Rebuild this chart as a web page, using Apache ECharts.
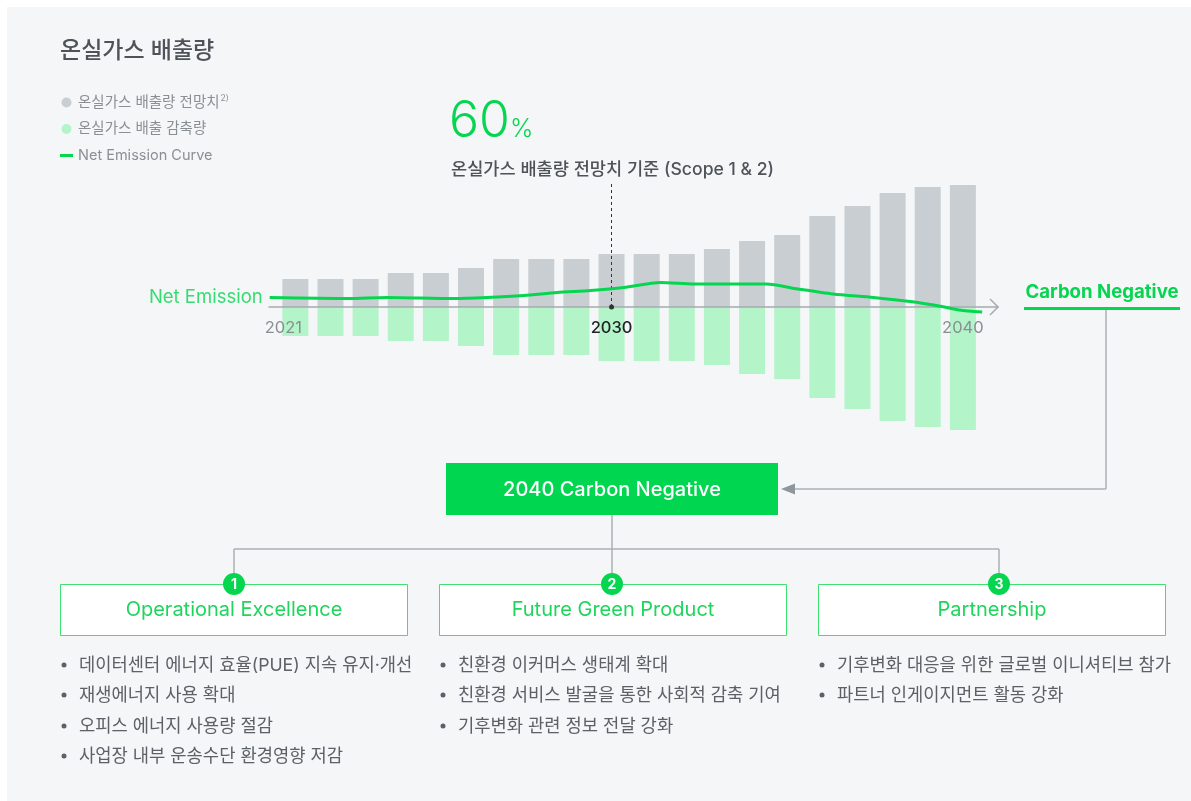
<!DOCTYPE html>
<html>
<head>
<meta charset="utf-8">
<script src="https://cdn.jsdelivr.net/npm/echarts@6/dist/echarts.min.js"></script>
<style>
  html, body { margin: 0; padding: 0; background: #ffffff; }
  #chart { width: 1191px; height: 801px; }
</style>
</head>
<body>
<div id="chart"></div>
<script>
// ---- data ----
const years = [2021, 2022, 2023, 2024, 2025, 2026, 2027, 2028, 2029, 2030,
               2031, 2032, 2033, 2034, 2035, 2036, 2037, 2038, 2039, 2040];
// projected (business-as-usual) emissions
const projected = [28, 28, 28, 34, 34, 39, 48, 48, 48, 53,
                   53, 53, 58, 66, 72, 91, 101, 114, 120, 122];
// emission reductions (drawn below the axis)
const reduction = [-29, -29, -29, -34, -34, -39, -48, -48, -48, -54,
                   -54, -54, -58, -67, -72, -91, -102, -114, -120, -123];
// net emission curve: [year position, value]
const netCurve = [
  [2020.27, 9.5], [2022.5, 8.5], [2023.6, 9.5], [2025.5, 8.5], [2026.45, 9.5],
  [2027.5, 11.5], [2028.45, 14.5], [2029.4, 16.5], [2030.35, 19.5], [2031.4, 24.5],
  [2032.35, 23], [2034.4, 23], [2035.3, 18], [2036.3, 13], [2037.45, 9.5],
  [2038.5, 5.5], [2039.4, 0.5], [2039.9, -3], [2040.55, -5]
];
const axisYears = [2021, 2030, 2040];
const baseYear = 2030;
const baseMarkerTop = 124;

const seriesNames = ['온실가스 배출량 전망치', '온실가스 배출 감축량', 'Net Emission Curve'];
const curveLabel = 'Net Emission';
const titleText = '온실가스 배출량';
const targetPct = '60';
const targetNote = '온실가스 배출량 전망치 기준 (Scope 1 & 2)';
const goalText = '2040 Carbon Negative';
const sideText = 'Carbon Negative';
const pillars = ['Operational Excellence', 'Future Green Product', 'Partnership'];
const actions = [
  ['데이터센터 에너지 효율(PUE) 지속 유지·개선', '재생에너지 사용 확대', '오피스 에너지 사용량 절감', '사업장 내부 운송수단 환경영향 저감'],
  ['친환경 이커머스 생태계 확대', '친환경 서비스 발굴을 통한 사회적 감축 기여', '기후변화 관련 정보 전달 강화'],
  ['기후변화 대응을 위한 글로벌 이니셔티브 참가', '파트너 인게이지먼트 활동 강화']
];

// ---- styles ----
const FONT = "Inter, 'Noto Sans CJK KR', sans-serif";
const GREEN = '#06d64f';
const GREEN_TEXT = '#1fd65d';
const GRAY_BAR = '#c8ced2';
const GREEN_BAR = '#b3f4c9';
const CONNECT = '#aab1b6';
const TEXT_DARK = '#4d5358';
const TEXT_BODY = '#5b6166';

function txt(x, y, text, size, fill, opts) {
  opts = opts || {};
  return {
    type: 'text', x: x, y: y, z: opts.z || 5,
    style: {
      text: text, fill: fill,
      font: (opts.weight || 400) + ' ' + size + 'px ' + FONT,
      align: opts.align || 'left', textAlign: opts.align || 'left',
      verticalAlign: 'middle', textVerticalAlign: 'middle',
      rich: opts.rich
    }
  };
}
function seg(x1, y1, x2, y2, color, w) {
  return { type: 'line', z: 3, shape: { x1: x1, y1: y1, x2: x2, y2: y2 },
           style: { stroke: color, lineWidth: w || 1.5 } };
}

const graphics = [];
// panel background
graphics.push({ type: 'rect', z: -10, silent: true,
  shape: { x: 7, y: 7, width: 1184, height: 794 }, style: { fill: '#f5f6f8' } });

// 60% headline
graphics.push(txt(449, 122, '{a|' + targetPct + '}{b|%}', 50, GREEN, {
  rich: {
    a: { fontSize: 50, fontWeight: 300, fontFamily: FONT, fill: GREEN, color: GREEN },
    b: { fontSize: 25, fontWeight: 300, fontFamily: FONT, fill: GREEN, color: GREEN, padding: [14, 0, 0, 0] }
  }
}));
graphics.push(txt(451, 170, targetNote, 17.6, TEXT_DARK, { weight: 500 }));

// axis arrow head
graphics.push({ type: 'polyline', z: 4,
  shape: { points: [[990, 299], [998, 307], [990, 315]] },
  style: { stroke: '#a5abb0', lineWidth: 1.5, fill: null } });

// "Carbon Negative" tag with underline and connector to the goal box
graphics.push(txt(1102, 292, sideText, 18.6, GREEN, { weight: 700, align: 'center' }));
graphics.push({ type: 'rect', z: 4, shape: { x: 1024, y: 307, width: 156, height: 3 }, style: { fill: GREEN } });
graphics.push(seg(1106, 310, 1106, 489, CONNECT));
graphics.push(seg(1106, 489, 793, 489, CONNECT));
graphics.push({ type: 'polygon', z: 4, shape: { points: [[781, 489], [795, 483.5], [795, 494.5]] },
  style: { fill: '#8f979d' } });

// goal box
graphics.push({ type: 'rect', z: 4, shape: { x: 446, y: 463, width: 332, height: 52 }, style: { fill: '#00d64f' } });
graphics.push(txt(612, 490, goalText, 20, '#ffffff', { weight: 500, align: 'center' }));

// tree connectors
const colCenters = [234, 612, 999];
graphics.push(seg(612, 515, 612, 549, CONNECT));
graphics.push(seg(234, 549, 999, 549, CONNECT));
colCenters.forEach(function (cx) { graphics.push(seg(cx, 549, cx, 575, CONNECT)); });

// pillar boxes, number badges and action lists
const boxLefts = [60, 439, 818];
const bulletX = [64, 443, 822];
const rowY = [666, 696, 727, 757];
pillars.forEach(function (name, i) {
  graphics.push({ type: 'rect', z: 4, shape: { x: boxLefts[i] + 0.5, y: 584.5, width: 347, height: 51 },
    style: { fill: '#ffffff', stroke: '#3ee070', lineWidth: 1 } });
  graphics.push(txt(boxLefts[i] + 174, 610, name, 20, GREEN_TEXT, { align: 'center' }));
  graphics.push({ type: 'circle', z: 6, shape: { cx: colCenters[i], cy: 584, r: 11 }, style: { fill: GREEN } });
  graphics.push(txt(colCenters[i], 584.5, String(i + 1), 14, '#ffffff', { weight: 700, align: 'center', z: 7 }));
  actions[i].forEach(function (t, j) {
    graphics.push({ type: 'circle', z: 5, shape: { cx: bulletX[i], cy: rowY[j] - 1, r: 2.5 }, style: { fill: TEXT_BODY } });
    graphics.push(txt(bulletX[i] + 15, rowY[j], t, 17.7, TEXT_BODY));
  });
});

const chart = echarts.init(document.getElementById('chart'), null, { renderer: 'canvas' });
chart.setOption({
  backgroundColor: '#ffffff',
  animation: false,
  textStyle: { fontFamily: FONT },
  title: {
    text: titleText, left: 60, top: 40, padding: 0,
    textStyle: { fontSize: 23, fontWeight: 500, color: TEXT_DARK, fontFamily: FONT }
  },
  legend: {
    orient: 'vertical', left: 60, top: 94, padding: 0,
    itemWidth: 13, itemHeight: 10, itemGap: 12, itemTextGap: 8,
    selectedMode: false, symbolKeepAspect: true,
    data: [
      { name: seriesNames[0], icon: 'circle' },
      { name: seriesNames[1], icon: 'circle' },
      { name: seriesNames[2], icon: 'path://M0,0 L13,0 L13,3 L0,3 Z' }
    ],
    formatter: function (n) {
      return n === seriesNames[0] ? '{t|' + n + '}{s|2)}' : '{t|' + n + '}';
    },
    textStyle: {
      color: '#8a8f94', fontSize: 14.5, fontFamily: FONT,
      rich: {
        t: { fontSize: 14.5, color: '#8a8f94', lineHeight: 17, fontFamily: FONT },
        s: { fontSize: 8.5, color: '#8a8f94', lineHeight: 17, verticalAlign: 'top', padding: [0, 0, 7, 1], fontFamily: FONT }
      }
    }
  },
  grid: { left: 269, right: 193, top: 167, height: 280, containLabel: false },
  xAxis: {
    type: 'value', min: 2020.25, max: 2041, z: 3,
    position: 'bottom', offset: -140,
    splitLine: { show: false }, axisTick: { show: false },
    axisLine: { onZero: false, lineStyle: { color: '#a5abb0', width: 1.5 } },
    axisLabel: {
      customValues: axisYears, margin: 13,
      formatter: function (v) {
        if (v === baseYear) return '{b|' + v + '}';
        if (v === axisYears[0]) return '{f|' + v + '}';
        return '{g|' + v + '}';
      },
      rich: {
        b: { fontSize: 16.5, color: '#1f2326', fontFamily: FONT, fontWeight: 500 },
        g: { fontSize: 16.5, color: '#8a8f94', fontFamily: FONT },
        f: { fontSize: 16.5, color: '#8a8f94', fontFamily: FONT, padding: [0, 24, 0, 0] }
      }
    }
  },
  yAxis: { type: 'value', min: -140, max: 140, show: false },
  series: [
    {
      name: seriesNames[0], type: 'bar', stack: 'em', barWidth: 26,
      itemStyle: { color: GRAY_BAR },
      data: years.map(function (y, i) { return [y, projected[i]]; }),
      markLine: {
        silent: true, symbol: ['circle', 'none'], symbolSize: 5,
        label: { show: false },
        lineStyle: { color: '#333', type: [3, 3], width: 1 },
        data: [[{ coord: [baseYear, 0] }, { coord: [baseYear, baseMarkerTop] }]]
      }
    },
    {
      name: seriesNames[1], type: 'bar', stack: 'em', barWidth: 26,
      itemStyle: { color: GREEN_BAR },
      data: years.map(function (y, i) { return [y, reduction[i]]; })
    },
    {
      name: seriesNames[2], type: 'line', smooth: 0.25, showSymbol: false, symbol: 'none',
      color: GREEN, lineStyle: { color: GREEN, width: 3 }, z: 5,
      data: netCurve
    },
    {
      // name tag at the start of the curve
      type: 'scatter', symbolSize: 0, silent: true, z: 6,
      data: [netCurve[0]],
      label: { show: true, position: 'left', distance: 7, formatter: curveLabel,
               color: GREEN, fontSize: 18.5, fontFamily: FONT }
    }
  ],
  graphic: { elements: graphics }
});
</script>
</body>
</html>
